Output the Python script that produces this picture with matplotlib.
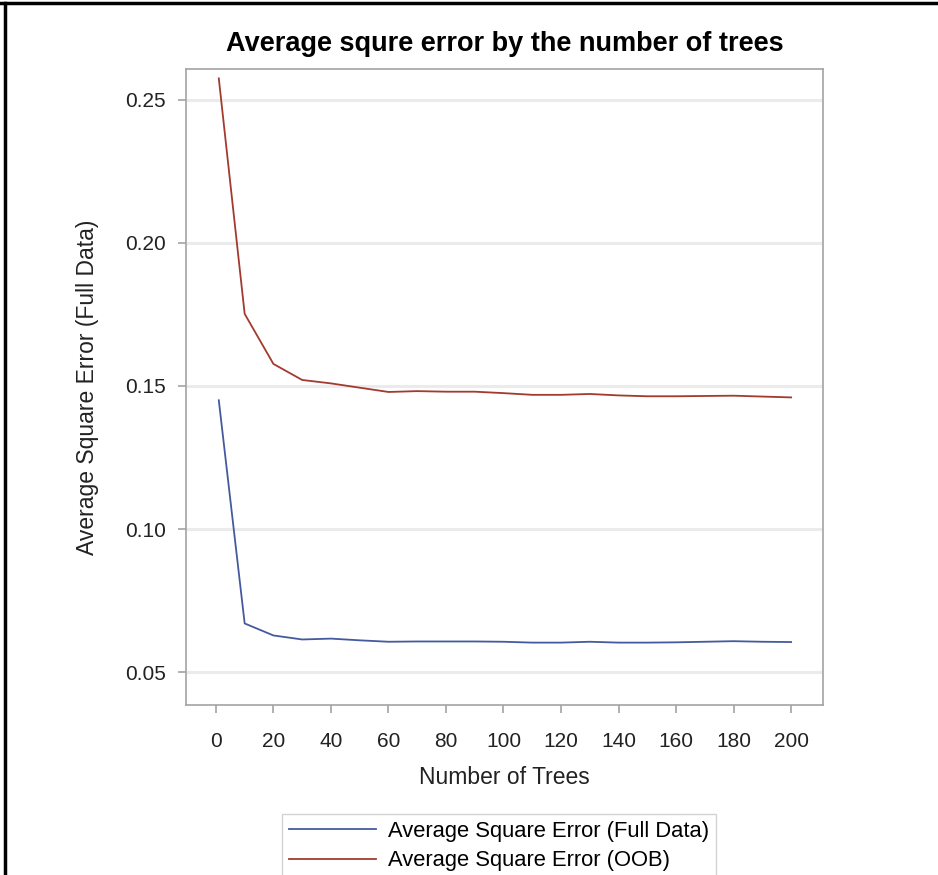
import numpy as np
import matplotlib.pyplot as plt
from matplotlib.lines import Line2D

plt.rcParams['font.family'] = ['Liberation Sans', 'DejaVu Sans']

# number of trees
n_trees = [1, 10, 20, 30, 40, 50, 60, 70, 80, 90, 100,
           110, 120, 130, 140, 150, 160, 170, 180, 190, 200]
# average square error, full data
ase_full = [0.1450, 0.0670, 0.0628, 0.0614, 0.0617, 0.0611, 0.0606, 0.0607, 0.0607, 0.0607, 0.0606,
            0.0603, 0.0603, 0.0606, 0.0603, 0.0603, 0.0604, 0.0606, 0.0608, 0.0606, 0.0605]
# average square error, out of bag
ase_oob = [0.2575, 0.1752, 0.1577, 0.1521, 0.1509, 0.1494, 0.1479, 0.1482, 0.1480, 0.1480, 0.1475,
           0.1469, 0.1469, 0.1472, 0.1467, 0.1464, 0.1464, 0.1465, 0.1466, 0.1463, 0.1460]

yticks = [0.05, 0.10, 0.15, 0.20, 0.25]
xticks = list(range(0, 201, 20))

fig = plt.figure(figsize=(9.38, 8.75), dpi=100)
ax = fig.add_axes((0.1983, 0.1943, 0.6791, 0.7269))

grey = '#a3a3a3'
ax.plot(n_trees, ase_full, color='#445a9e', lw=1.3, label='Average Square Error (Full Data)')
ax.plot(n_trees, ase_oob, color='#a23a2e', lw=1.3, label='Average Square Error (OOB)')

ax.set_xlim(-10.4, 211.1)
ax.set_ylim(0.0385, 0.2608)
ax.set_xticks(xticks)
ax.set_yticks(yticks)
ax.set_yticklabels(['%.2f' % v for v in yticks])
ax.yaxis.grid(True, color='#ebebeb', lw=2.2)
ax.set_axisbelow(True)
for s in ax.spines.values():
    s.set_color(grey)
    s.set_linewidth(1.2)
ax.tick_params(direction='out', length=5.5, width=1.2, color=grey, labelsize=15,
               labelcolor='#222222')
ax.tick_params(axis='y', pad=9)
ax.tick_params(axis='x', pad=14)

ax.set_title('Average squre error by the number of trees', fontsize=19.5,
             fontweight='bold', pad=13)
ax.set_xlabel('Number of Trees', fontsize=16.5, labelpad=11, color='#222222')
ax.set_ylabel('Average Square Error (Full Data)', fontsize=16.5, labelpad=19, color='#222222')

leg = fig.legend(loc='upper left', bbox_to_anchor=(282 / 938, 1 - 814 / 875),
                 fontsize=15.8, frameon=True, fancybox=False, handlelength=4.0,
                 borderpad=0.3, labelspacing=0.4, handletextpad=0.55, borderaxespad=0)
leg.get_frame().set_edgecolor('#c8c8c8')
leg.get_frame().set_linewidth(1.0)

# screenshot border
fig.add_artist(Line2D([0, 1], [1 - 2.5 / 875, 1 - 2.5 / 875], color='black', lw=2.5))
fig.add_artist(Line2D([5 / 938, 5 / 938], [0, 1 - 2.5 / 875], color='black', lw=2.5))

fig.savefig('out.png', dpi=100)
